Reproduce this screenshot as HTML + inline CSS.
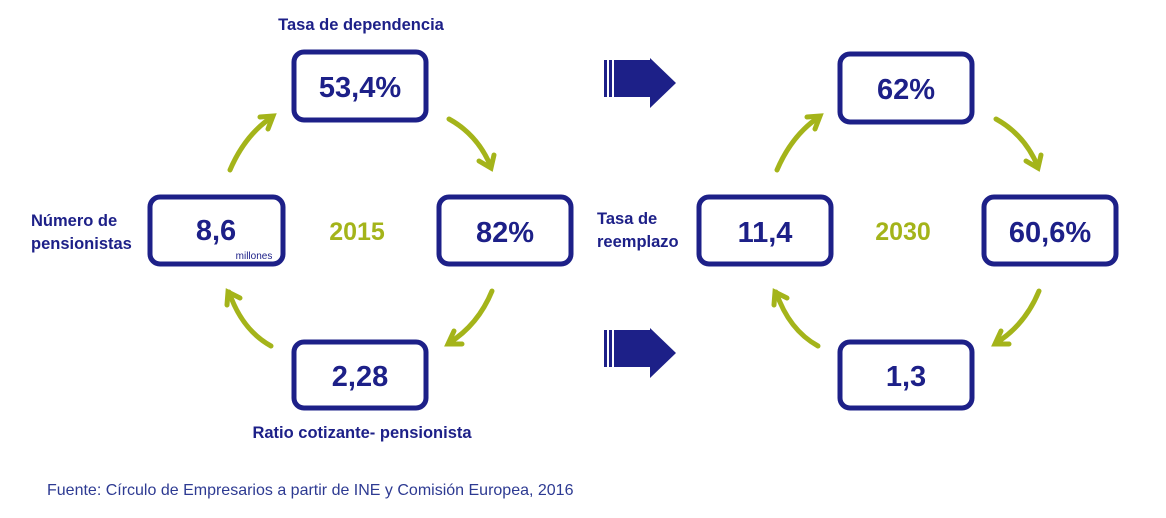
<!DOCTYPE html>
<html><head><meta charset="utf-8"><style>
body{margin:0;width:1166px;height:513px;background:#fff;overflow:hidden;font-family:"Liberation Sans",sans-serif}
</style></head><body>
<svg width="1166" height="513" viewBox="0 0 1166 513" xmlns="http://www.w3.org/2000/svg" font-family="Liberation Sans, sans-serif">
<g fill="#fff" stroke="#1d2088" stroke-width="5">
<rect x="294" y="52" width="132" height="68" rx="10"/>
<rect x="150" y="197" width="133" height="67" rx="10"/>
<rect x="439" y="197" width="132" height="67" rx="10"/>
<rect x="294" y="342" width="132" height="66" rx="10"/>
<rect x="840" y="54" width="132" height="68" rx="10"/>
<rect x="699" y="197" width="132" height="67" rx="10"/>
<rect x="984" y="197" width="132" height="67" rx="10"/>
<rect x="840" y="342" width="132" height="66" rx="10"/>
</g>
<g fill="#1d2088" font-weight="bold" font-size="29" text-anchor="middle">
<text x="360" y="97">53,4%</text>
<text x="216" y="240">8,6</text>
<text x="505" y="242">82%</text>
<text x="360" y="386">2,28</text>
<text x="906" y="99">62%</text>
<text x="765" y="242">11,4</text>
<text x="1050" y="242">60,6%</text>
<text x="906" y="386">1,3</text>
</g>
<text x="254" y="259" fill="#1d2088" font-size="10" text-anchor="middle">millones</text>
<g fill="#1d2088" font-weight="bold" font-size="16.5">
<text x="361" y="30" text-anchor="middle">Tasa de dependencia</text>
<text x="31" y="226">Número de</text>
<text x="31" y="249">pensionistas</text>
<text x="362" y="438" text-anchor="middle">Ratio cotizante- pensionista</text>
<text x="597" y="224">Tasa de</text>
<text x="597" y="247">reemplazo</text>
</g>
<g fill="#a4b41a" font-weight="bold" font-size="25" text-anchor="middle">
<text x="357" y="240">2015</text>
<text x="903" y="240">2030</text>
</g>
<text x="47" y="495" fill="#2d3a92" font-size="16">Fuente: Círculo de Empresarios a partir de INE y Comisión Europea, 2016</text>
<g fill="#1d2088">
<g id="ar"><rect x="604" y="60" width="3" height="37"/><rect x="609" y="60" width="3" height="37"/><rect x="614" y="60" width="37" height="37"/><polygon points="650,58 676,83 650,108"/></g>
<use href="#ar" y="270"/>
</g>
<g fill="none" stroke="#a4b41a" stroke-width="5" stroke-linecap="round">
<path d="M230,170 Q245,135 272,117"/><path d="M260,117 L273,116 L268,129"/>
<path d="M449,119 Q478,135 491,167"/><path d="M479,161 L491,168 L494,155"/>
<path d="M492,291 Q478,325 449,343"/><path d="M462,344 L448,344 L454,331"/>
<path d="M271,346 Q242,330 229,292"/><path d="M227,305 L228,292 L240,298"/>
<g transform="translate(547,0)">
<path d="M230,170 Q245,135 272,117"/><path d="M260,117 L273,116 L268,129"/>
<path d="M449,119 Q478,135 491,167"/><path d="M479,161 L491,168 L494,155"/>
<path d="M492,291 Q478,325 449,343"/><path d="M462,344 L448,344 L454,331"/>
<path d="M271,346 Q242,330 229,292"/><path d="M227,305 L228,292 L240,298"/>
</g>
</g>
</svg>
</body></html>
